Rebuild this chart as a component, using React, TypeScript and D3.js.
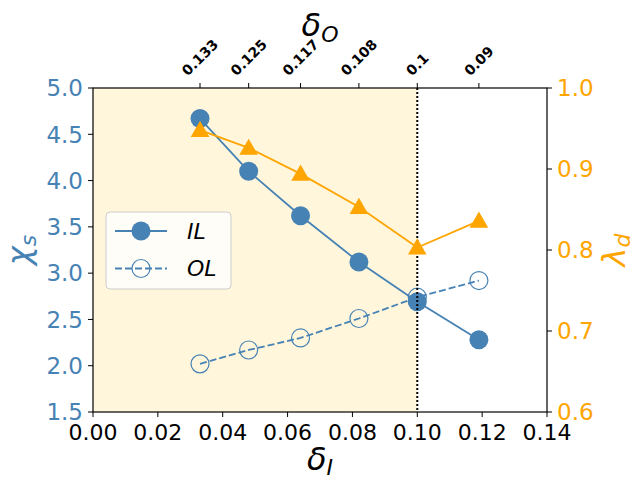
import React from 'react';
import * as d3 from 'd3';

// series
const deltaI = [0.033, 0.048, 0.064, 0.082, 0.1, 0.119];
const chiIL = [4.67, 4.1, 3.62, 3.12, 2.69, 2.28];
const chiOL = [2.02, 2.17, 2.3, 2.51, 2.74, 2.92];
const lambdaD = [0.948, 0.926, 0.894, 0.853, 0.803, 0.836];
const deltaOLabels = ['0.133', '0.125', '0.117', '0.108', '0.1', '0.09'];
const xTicks = [0, 0.02, 0.04, 0.06, 0.08, 0.1, 0.12, 0.14];
const leftTicks = [1.5, 2.0, 2.5, 3.0, 3.5, 4.0, 4.5, 5.0];
const rightTicks = [0.6, 0.7, 0.8, 0.9, 1.0];
const shadeRange = [0, 0.1];

const W = 635;
const H = 479;
const m = { left: 93, right: 547, top: 88, bottom: 412 };
const BLUE = '#4682b4';
const ORANGE = '#ffa500';
const FONT = '"DejaVu Sans", sans-serif';
const DASH = '7,3';

export default function App() {
  const x = d3.scaleLinear().domain([0, 0.14]).range([m.left, m.right]);
  const yL = d3.scaleLinear().domain([1.5, 5.0]).range([m.bottom, m.top]);
  const yR = d3.scaleLinear().domain([0.6, 1.0]).range([m.bottom, m.top]);

  const lineL = d3.line<number>().x((_, i) => x(deltaI[i])).y(d => yL(d));
  const lineR = d3.line<number>().x((_, i) => x(deltaI[i])).y(d => yR(d));
  const tri = d3.symbol().type(d3.symbolTriangle).size(150)();

  // rough width of the bold top labels, to centre them after rotation
  const labelW = (s: string) => 14 * (s.replace('.', '').length * 0.696 + 0.38);

  return (
    <svg width={W} height={H} style={{ position: 'absolute', left: 0, top: 0, background: '#fff' }} fontFamily={FONT}>
      {/* shaded band */}
      <rect x={x(shadeRange[0])} y={m.top} width={x(shadeRange[1]) - x(shadeRange[0])} height={m.bottom - m.top} fill="#fff6dc" />

      {/* IL */}
      <path d={lineL(chiIL) || ''} fill="none" stroke={BLUE} strokeWidth={1.8} />
      {chiIL.map((v, i) => (
        <circle key={'il' + i} cx={x(deltaI[i])} cy={yL(v)} r={9.5} fill={BLUE} />
      ))}
      {/* OL */}
      <path d={lineL(chiOL) || ''} fill="none" stroke={BLUE} strokeWidth={1.8} strokeDasharray={DASH} />
      {chiOL.map((v, i) => (
        <circle key={'ol' + i} cx={x(deltaI[i])} cy={yL(v)} r={9} fill="none" stroke={BLUE} strokeWidth={1.2} />
      ))}

      {/* dotted vline */}
      <line x1={x(0.1)} x2={x(0.1)} y1={m.top} y2={m.bottom} stroke="#000" strokeWidth={2} strokeDasharray="2,2" />

      {/* lambda_d */}
      <path d={lineR(lambdaD) || ''} fill="none" stroke={ORANGE} strokeWidth={1.8} />
      {lambdaD.map((v, i) => (
        <path key={'t' + i} d={tri || ''} transform={`translate(${x(deltaI[i])},${yR(v) + 1.5})`} fill={ORANGE} />
      ))}

      {/* frame */}
      <rect x={m.left} y={m.top} width={m.right - m.left} height={m.bottom - m.top} fill="none" stroke="#000" strokeWidth={1.2} />

      {/* bottom axis */}
      {xTicks.map(t => (
        <g key={'x' + t} transform={`translate(${x(t)},${m.bottom})`}>
          <line y2={5} stroke="#000" strokeWidth={1} />
          <text y={28} textAnchor="middle" fontSize={22} fill="#000">{d3.format('.2f')(t)}</text>
        </g>
      ))}
      <text x={(m.left + m.right) / 2} y={470} textAnchor="middle" fontSize={32} fontStyle="italic">
        δ<tspan fontSize={22} dy={5}>I</tspan>
      </text>

      {/* top axis */}
      {deltaI.map((t, i) => {
        const w = labelW(deltaOLabels[i]);
        const bb = (w + 14) * Math.SQRT1_2;
        const cy = m.top - 10 - bb / 2;
        return (
          <g key={'top' + i}>
            <line x1={x(t)} x2={x(t)} y1={m.top} y2={m.top - 5} stroke="#000" strokeWidth={1} />
            <text x={x(t)} y={cy} transform={`rotate(-45,${x(t)},${cy})`} textAnchor="middle" dominantBaseline="central" fontSize={14} fontWeight="bold">
              {deltaOLabels[i]}
            </text>
          </g>
        );
      })}
      <text x={(m.left + m.right) / 2} y={36} textAnchor="middle" fontSize={32} fontStyle="italic">
        δ<tspan fontSize={22} dy={6}>O</tspan>
      </text>

      {/* left axis */}
      {leftTicks.map(t => (
        <g key={'l' + t} transform={`translate(${m.left},${yL(t)})`}>
          <line x2={-5} stroke="#000" strokeWidth={1} />
          <text x={-10} dy="0.36em" textAnchor="end" fontSize={23} fill={BLUE}>{d3.format('.1f')(t)}</text>
        </g>
      ))}
      <text transform={`translate(30,${(m.top + m.bottom) / 2}) rotate(-90)`} textAnchor="middle" fontSize={32} fontStyle="italic" fill={BLUE}>
        χ<tspan fontSize={22} dy={6}>s</tspan>
      </text>

      {/* right axis */}
      {rightTicks.map(t => (
        <g key={'r' + t} transform={`translate(${m.right},${yR(t)})`}>
          <line x2={5} stroke="#000" strokeWidth={1} />
          <text x={10} dy="0.36em" textAnchor="start" fontSize={23} fill={ORANGE}>{d3.format('.1f')(t)}</text>
        </g>
      ))}
      <text transform={`translate(625,${(m.top + m.bottom) / 2}) rotate(-90)`} textAnchor="middle" fontSize={32} fontStyle="italic" fill={ORANGE}>
        λ<tspan fontSize={22} dy={5}>d</tspan>
      </text>

      {/* legend */}
      <g transform="translate(106,212)">
        <rect width={125} height={77} rx={4} fill="#fff" fillOpacity={0.8} stroke="#ccc" strokeWidth={1} />
        <line x1={9} x2={61} y1={19} y2={19} stroke={BLUE} strokeWidth={1.8} />
        <circle cx={35} cy={19} r={9.5} fill={BLUE} />
        <text x={81} y={26.5} fontSize={22} fontStyle="italic">IL</text>
        <line x1={9} x2={61} y1={56.5} y2={56.5} stroke={BLUE} strokeWidth={1.8} strokeDasharray={DASH} />
        <circle cx={35} cy={56.5} r={9} fill="none" stroke={BLUE} strokeWidth={1.2} />
        <text x={81} y={64} fontSize={22} fontStyle="italic">OL</text>
      </g>
    </svg>
  );
}
